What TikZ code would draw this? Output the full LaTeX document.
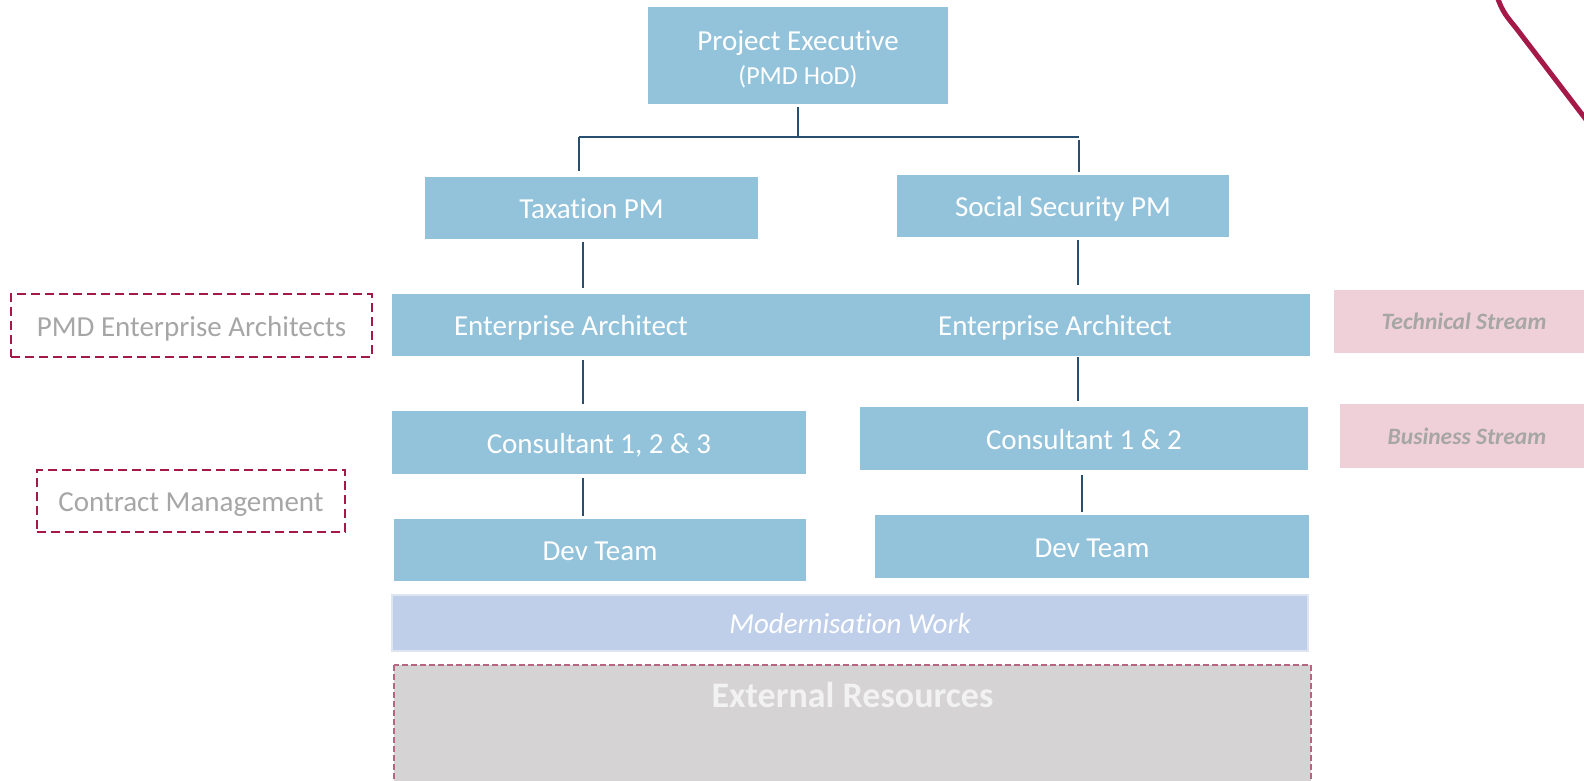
\documentclass[tikz,border=0pt]{standalone}
\usepackage{fontspec}
\setmainfont{Carlito}[Ligatures=NoCommon]
\definecolor{boxblue}{RGB}{147,194,219}
\definecolor{connc}{RGB}{40,78,112}
\definecolor{crim}{RGB}{165,25,72}
\definecolor{greytxt}{RGB}{166,166,166}
\definecolor{pinkfill}{RGB}{240,208,216}
\definecolor{modfill}{RGB}{191,207,234}
\definecolor{modline}{RGB}{222,228,240}
\definecolor{extfill}{RGB}{213,211,212}
\definecolor{extline}{RGB}{185,100,128}
\definecolor{exttxt}{RGB}{242,242,242}
\begin{document}
\begin{tikzpicture}[x=1pt,y=-1pt,
  bluebox/.style={rectangle,fill=boxblue,text=white,inner sep=0pt,text height=21pt,text depth=0pt,font=\fontsize{29}{34}\selectfont},
  conn/.style={draw=connc,line width=1.5pt},
  dashbox/.style={rectangle,draw=crim,line width=2.8pt,dash pattern=on 9pt off 5pt,text=greytxt,inner sep=0pt,text height=21pt,text depth=0pt,font=\fontsize{29}{34}\selectfont},
  streambox/.style={rectangle,fill=pinkfill,text=greytxt,inner sep=0pt,font=\fontsize{23.5}{28}\selectfont\bfseries\itshape}
]
\useasboundingbox (0,0) rectangle (1584,780);
% top-right curve
\draw[crim,line width=5pt] (1497,-4) .. controls (1502,12) and (1508,18) .. (1516,28) -- (1594,130);

% main boxes
\node[bluebox,minimum width=300pt,minimum height=97pt,text height=49pt,text depth=27pt] (pe) at (798,55.5)
  {\begin{tabular}{@{}c@{}}Project Executive\\[0pt]{\fontsize{26}{30}\selectfont(PMD HoD)}\end{tabular}};
\node[bluebox,minimum width=333pt,minimum height=62pt] (tax) at (591.5,208) {Taxation PM};
\node[bluebox,minimum width=332pt,minimum height=62pt] (ss) at (1063,206) {Social Security PM};
\node[bluebox,minimum width=358pt,minimum height=62pt] (ea1) at (571,325) {Enterprise Architect};
\node[bluebox,minimum width=510pt,minimum height=62pt] (ea2) at (1055,325) {Enterprise Architect};
\fill[boxblue] ([xshift=-1pt]ea1.north east) rectangle ([xshift=1pt]ea2.south west);
\node[bluebox,minimum width=414pt,minimum height=63pt] (c1) at (599,442.5) {Consultant 1, 2 \& 3};
\node[bluebox,minimum width=448pt,minimum height=63pt] (c2) at (1084,438.5) {Consultant 1 \& 2};
\node[bluebox,minimum width=412pt,minimum height=62pt] (d1) at (600,550) {Dev Team};
\node[bluebox,minimum width=434pt,minimum height=63pt] (d2) at (1092,546.5) {Dev Team};

% modernisation & external
\node[rectangle,fill=modfill,draw=modline,line width=2pt,minimum width=916pt,minimum height=56pt,inner sep=0pt,text height=20pt,text depth=0pt,text=white,font=\fontsize{29}{34}\selectfont\itshape] (mod) at (850,623) {Modernisation Work};
\draw[fill=extfill,draw=extline,line width=1.5pt,dash pattern=on 6pt off 3pt] (394,665) rectangle (1311,790);
\coordinate (extc) at (852.5,695);
\node[text=exttxt,font=\fontsize{36}{40}\selectfont\bfseries,inner sep=0pt] (ext) at (extc) {External Resources};

% side labels
\node[dashbox,minimum width=361pt,minimum height=63pt] (pmdea) at (191.5,325.5) {PMD Enterprise Architects};
\node[dashbox,minimum width=308pt,minimum height=62pt] (cm) at (191,501) {Contract Management};
\node[streambox,minimum width=260pt,minimum height=63pt] (ts) at (1464,321.5) {Technical Stream};
\node[streambox,minimum width=254pt,minimum height=64pt] (bs) at (1467,436) {Business Stream};

% connectors
\coordinate (hl) at (579,137);
\coordinate (hr) at (1079,137);
\coordinate (lx) at (583,0);
\coordinate (rx) at (1078,0);
\coordinate (rx2) at (1082,0);
\draw[conn,shorten <=3pt] (pe.south) -- (pe.south |- hl);
\draw[conn] (hl) -- (hr);
\draw[conn,shorten >=6pt] (hl) -- (hl |- tax.north);
\draw[conn,shorten <=3pt,shorten >=3pt] (hr) -- (hr |- ss.north);
\draw[conn,shorten <=3pt,shorten >=6pt] (tax.south -| lx) -- (ea1.north -| lx);
\draw[conn,shorten <=3pt,shorten >=9pt] (ss.south -| rx) -- (ea2.north -| rx);
\draw[conn,shorten <=4pt,shorten >=7pt] (ea1.south -| lx) -- (c1.north -| lx);
\draw[conn,shorten <=1pt,shorten >=6pt] (ea2.south -| rx) -- (c2.north -| rx);
\draw[conn,shorten <=4pt,shorten >=3pt] (c1.south -| lx) -- (d1.north -| lx);
\draw[conn,shorten <=5pt,shorten >=3pt] (c2.south -| rx2) -- (d2.north -| rx2);
\end{tikzpicture}
\end{document}
